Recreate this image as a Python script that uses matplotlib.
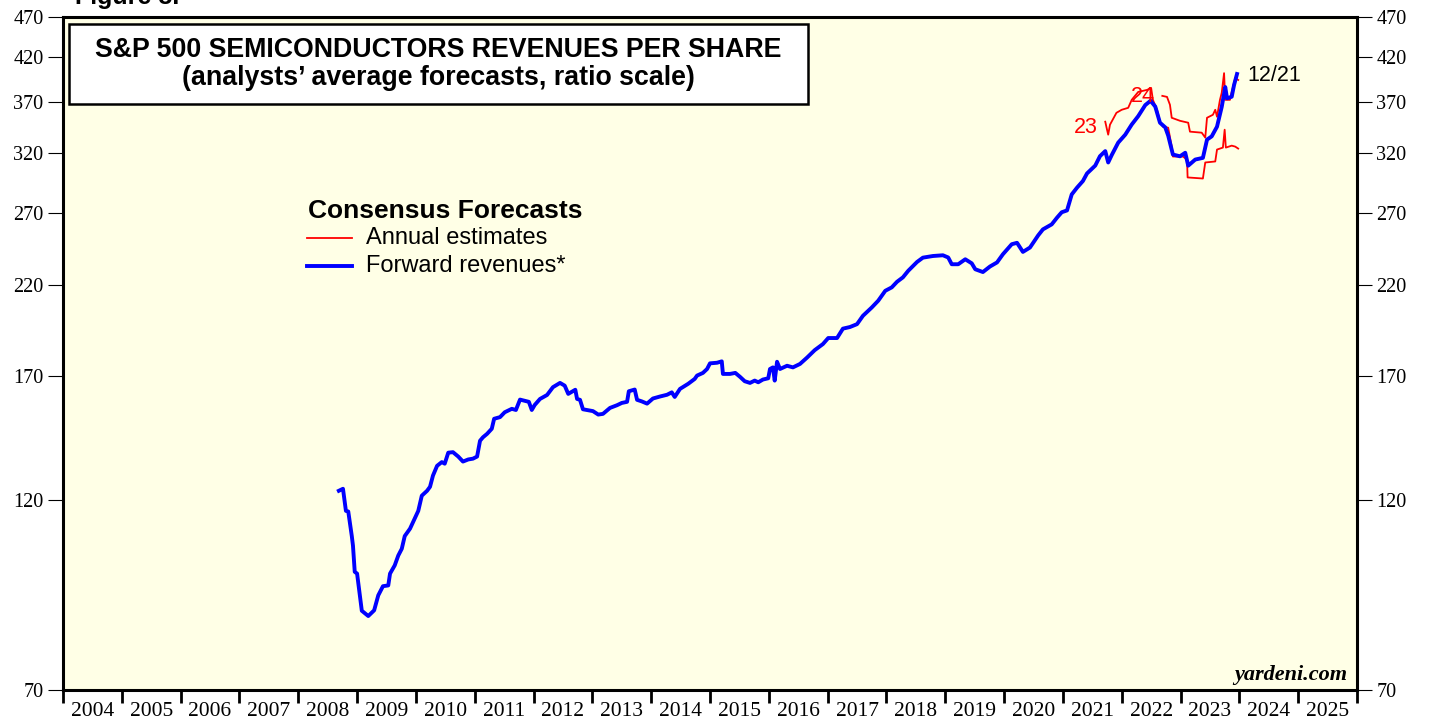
import numpy as np
import matplotlib
matplotlib.use("Agg")
import matplotlib.pyplot as plt
from matplotlib.patches import Rectangle

# forward revenues (weekly)
fwd_dates = [2008.69, 2008.76, 2008.81, 2008.85, 2008.91, 2008.93, 2008.96, 2009.00, 2009.08, 2009.19,
             2009.29, 2009.36, 2009.44, 2009.53, 2009.56, 2009.64, 2009.70, 2009.76, 2009.81, 2009.90,
             2009.98, 2010.04, 2010.10, 2010.19, 2010.24, 2010.29, 2010.36, 2010.44, 2010.49, 2010.55,
             2010.63, 2010.72, 2010.80, 2010.89, 2010.97, 2011.04, 2011.09, 2011.14, 2011.21, 2011.29,
             2011.33, 2011.43, 2011.51, 2011.63, 2011.70, 2011.77, 2011.92, 2011.97, 2012.02, 2012.11,
             2012.23, 2012.33, 2012.45, 2012.53, 2012.59, 2012.71, 2012.74, 2012.79, 2012.84, 2013.01,
             2013.10, 2013.18, 2013.30, 2013.42, 2013.50, 2013.59, 2013.62, 2013.72, 2013.76, 2013.84,
             2013.93, 2014.03, 2014.15, 2014.27, 2014.35, 2014.40, 2014.49, 2014.63, 2014.74, 2014.78,
             2014.88, 2014.95, 2015.00, 2015.12, 2015.20, 2015.22, 2015.34, 2015.43, 2015.51, 2015.59,
             2015.68, 2015.76, 2015.82, 2015.90, 2015.99, 2016.02, 2016.07, 2016.10, 2016.14, 2016.19,
             2016.31, 2016.41, 2016.53, 2016.65, 2016.78, 2016.92, 2017.01, 2017.16, 2017.26, 2017.38,
             2017.50, 2017.60, 2017.75, 2017.86, 2017.98, 2018.09, 2018.18, 2018.28, 2018.37, 2018.52,
             2018.62, 2018.79, 2018.96, 2019.05, 2019.11, 2019.22, 2019.34, 2019.45, 2019.51, 2019.64,
             2019.76, 2019.88, 2019.98, 2020.13, 2020.22, 2020.32, 2020.44, 2020.58, 2020.66, 2020.81,
             2020.90, 2020.98, 2021.07, 2021.15, 2021.24, 2021.34, 2021.41, 2021.55, 2021.63, 2021.72,
             2021.77, 2021.83, 2021.94, 2022.06, 2022.17, 2022.28, 2022.40, 2022.49, 2022.57, 2022.65,
             2022.74, 2022.79, 2022.87, 2022.99, 2023.08, 2023.13, 2023.25, 2023.38, 2023.45, 2023.53,
             2023.62, 2023.70, 2023.76, 2023.79, 2023.87, 2023.91, 2023.96]
fwd_rev = [123.0, 123.7, 116.2, 116.0, 108.2, 105.3, 97.8, 97.3, 87.6, 86.3,
           87.7, 91.5, 93.9, 94.1, 97.3, 99.6, 102.4, 104.4, 108.2, 110.5,
           113.7, 116.2, 121.3, 123.0, 124.4, 128.4, 132.0, 133.4, 132.8, 137.0,
           137.2, 135.5, 133.6, 134.4, 134.7, 135.5, 141.7, 143.1, 144.5, 146.6,
           150.8, 151.5, 153.6, 155.1, 154.6, 159.2, 158.2, 154.6, 156.8, 159.5,
           161.3, 164.9, 166.9, 165.6, 161.8, 163.7, 159.5, 159.1, 154.9, 154.1,
           152.6, 152.9, 155.5, 156.7, 157.7, 158.2, 163.0, 163.8, 159.1, 158.4,
           157.4, 159.7, 160.6, 161.4, 162.5, 160.4, 164.1, 166.5, 168.8, 170.4,
           171.7, 173.6, 176.4, 176.7, 177.4, 171.2, 171.2, 171.7, 169.8, 167.7,
           166.9, 168.0, 167.2, 168.5, 169.1, 173.6, 174.4, 168.0, 177.2, 173.6,
           175.2, 174.4, 176.1, 179.3, 183.1, 186.3, 189.5, 189.5, 194.6, 195.5,
           197.1, 201.8, 206.6, 210.6, 216.6, 218.7, 222.2, 225.0, 229.2, 235.0,
           237.9, 239.0, 239.5, 238.0, 233.5, 233.5, 236.8, 234.1, 230.2, 228.4,
           232.0, 234.7, 240.2, 247.1, 248.1, 241.8, 244.8, 253.4, 257.7, 261.4,
           266.4, 270.5, 271.9, 284.5, 290.0, 295.5, 301.9, 308.7, 317.0, 321.6,
           311.4, 318.0, 329.4, 336.9, 346.7, 355.0, 366.3, 370.8, 364.8, 348.5,
           343.9, 336.0, 318.5, 316.9, 320.1, 308.6, 314.0, 315.5, 332.2, 335.3,
           344.6, 364.4, 385.5, 373.4, 375.1, 387.8, 400.0]

# annual estimates
est23_dates = [2021.72, 2021.75, 2021.77, 2021.80, 2021.91, 2022.00, 2022.11, 2022.17, 2022.28, 2022.43,
               2022.50, 2022.53, 2022.60, 2022.65, 2022.70, 2022.79, 2022.85, 2022.87, 2023.04, 2023.11,
               2023.12, 2023.38, 2023.42, 2023.59, 2023.62, 2023.72, 2023.75, 2023.77, 2023.87, 2023.93,
               2023.98]
est23_vals = [349.5, 341.7, 336.9, 346.5, 358.4, 361.5, 363.5, 371.8, 380.2, 382.4,
              384.5, 371.8, 361.5, 349.4, 344.6, 343.6, 325.7, 316.7, 316.7, 314.0,
              298.5, 297.6, 311.4, 312.3, 323.0, 324.8, 341.7, 324.8, 326.6, 325.7,
              323.9]
est24_dates = [2022.69, 2022.77, 2022.82, 2022.85, 2022.99, 2023.13, 2023.16, 2023.36, 2023.42, 2023.45,
               2023.55, 2023.59, 2023.62, 2023.67, 2023.70, 2023.74, 2023.76, 2023.84, 2023.87, 2023.93,
               2023.98]
est24_vals = [376.0, 374.9, 366.6, 353.4, 350.4, 348.5, 339.8, 338.8, 334.1, 353.4,
              356.4, 361.5, 354.4, 371.8, 379.2, 401.0, 371.8, 371.8, 380.2, 395.5,
              393.3]

years = list(range(2004, 2026))
yticks = [70, 120, 170, 220, 270, 320, 370, 420, 470]

sans = ["Liberation Sans", "DejaVu Sans"]
serif = ["Liberation Serif", "DejaVu Serif"]

fig = plt.figure(figsize=(14.29, 7.21), dpi=100)
ax = fig.add_axes([63 / 1429, 1 - 690 / 721, 1294 / 1429, 673 / 721])
ax.set_facecolor("#FFFFE6")

ax.plot(est23_dates, est23_vals, color="#FF0000", lw=1.3)
ax.plot(est24_dates, est24_vals, color="#FF0000", lw=1.3)
ax.plot(fwd_dates, fwd_rev, color="#0000FF", lw=2.8)

ax.set_yscale("log")
ax.set_ylim(70, 470)
ax.set_xlim(2004, 2026)
ax.yaxis.set_minor_locator(matplotlib.ticker.NullLocator())
ax.set_yticks(yticks)
ax.set_yticklabels([str(v) for v in yticks], family=serif, fontsize=14.5)
ax.tick_params(axis="y", which="major", direction="out", length=11, width=0.8,
               left=True, right=True, labelleft=True, labelright=True, pad=3)

ax.set_xticks(range(2004, 2027))
ax.set_xticklabels([])
ax.set_xticks([y + 0.5 for y in years], minor=True)
ax.set_xticklabels([str(y) for y in years], minor=True, family=serif, fontsize=15.5)
ax.tick_params(axis="x", which="major", direction="out", length=9, width=2)
ax.tick_params(axis="x", which="minor", length=0, pad=9)

for s in ax.spines.values():
    s.set_linewidth(2.2)

# title box
ax.add_patch(Rectangle((0.0046, 0.8707), 0.5711, 0.1189, transform=ax.transAxes,
                       facecolor="white", edgecolor="black", lw=1.8, zorder=5))
ax.text(0.2901, 0.951, "S&P 500 SEMICONDUCTORS REVENUES PER SHARE", transform=ax.transAxes,
        ha="center", va="center", fontsize=19.3, fontweight="bold", family=sans, zorder=6)
ax.text(0.2901, 0.9094, "(analysts\u2019 average forecasts, ratio scale)", transform=ax.transAxes,
        ha="center", va="center", fontsize=19.3, fontweight="bold", family=sans, zorder=6)

# legend
ax.text((308 - 63) / 1294, (690 - 211) / 673, "Consensus Forecasts", transform=ax.transAxes,
        ha="left", va="center", fontsize=19, fontweight="bold", family=sans)
ax.plot([(307 - 63) / 1294, (352 - 63) / 1294], [(690 - 238) / 673] * 2, transform=ax.transAxes,
        color="#FF0000", lw=1.3)
ax.plot([(307 - 63) / 1294, (352 - 63) / 1294], [(690 - 266) / 673] * 2, transform=ax.transAxes,
        color="#0000FF", lw=2.8)
ax.text((366 - 63) / 1294, (690 - 238) / 673, "Annual estimates", transform=ax.transAxes,
        ha="left", va="center", fontsize=17, family=sans)
ax.text((366 - 63) / 1294, (690 - 266) / 673, "Forward revenues*", transform=ax.transAxes,
        ha="left", va="center", fontsize=17, family=sans)

# annotations
ax.text(2021.6, 344, "23", color="#FF0000", ha="right", va="center", fontsize=15.5, family=sans)
ax.text(2022.36, 375, "24", color="#FF0000", ha="center", va="center", fontsize=15.5, family=sans)
ax.text(2024.13, 398, "12/21", color="black", ha="left", va="center", fontsize=15.5, family=sans)
ax.text((1347 - 63) / 1294, (690 - 675) / 673, "yardeni.com", transform=ax.transAxes,
        ha="right", va="center", fontsize=16, fontweight="bold", style="italic", family=serif)

fig.text(75 / 1429, 1 - 4 / 721, "Figure 8.", ha="left", va="baseline", fontsize=18,
         fontweight="bold", family=sans)

fig.savefig("out.png", dpi=100)
